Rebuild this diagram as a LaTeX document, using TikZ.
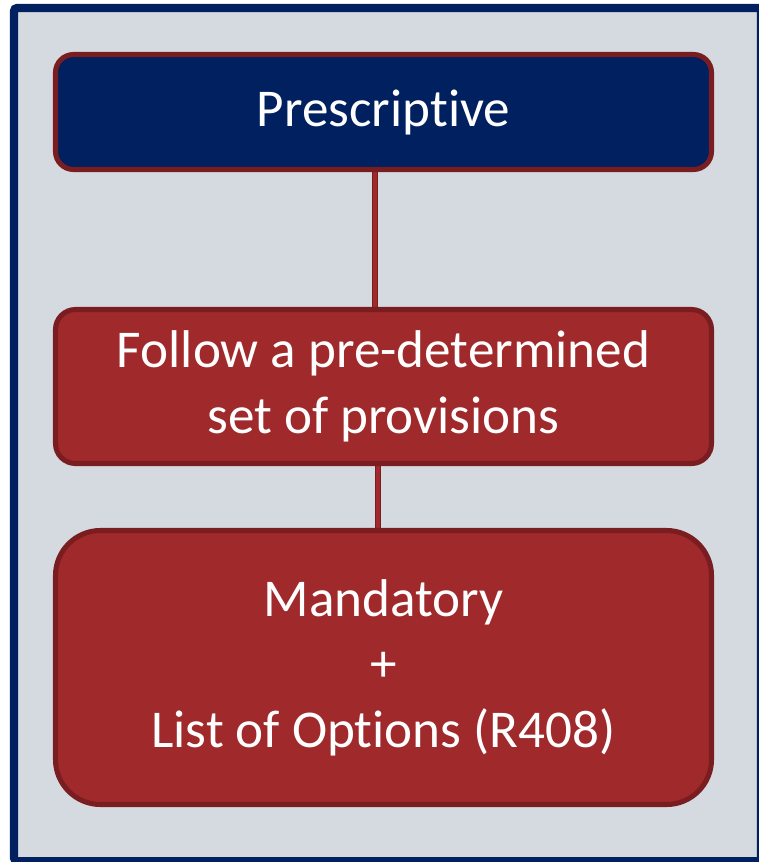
\documentclass[tikz,border=0pt]{standalone}
\usepackage{fontspec}
\setmainfont[Ligatures=NoCommon]{Carlito}
\usetikzlibrary{backgrounds}
\definecolor{navy}{HTML}{002060}
\definecolor{brick}{HTML}{A0292B}
\definecolor{darkbrick}{HTML}{7A1D20}
\definecolor{panel}{HTML}{D5DAE1}
\begin{document}
\begin{tikzpicture}[box/.style={draw = darkbrick, line width = 3.6pt, text = white, minimum width = 16.4cm, align = center, font = \fontsize{37.8}{46.5}\selectfont}]
\tikzstyle{link}=[draw=darkbrick, line width=0.7pt, double=brick, double distance=3.2pt]
\useasboundingbox (0,0) rectangle (18.975,-21.55);
\node[box, fill = navy, minimum height = 2.875cm, rounded corners = 0.45cm] (P) at (9.5875,-2.8){Prescriptive};
\node[box, fill = brick, minimum height = 3.85cm, rounded corners = 0.5cm] (F) at (9.5875,-9.6625){Follow a pre-determined\\set of provisions};
\node[box, fill = brick, minimum height = 6.85cm, rounded corners = 1.125cm] (M) at (9.5875,-16.6875){Mandatory\\+\\List of Options (R408)};
\begin{scope}[on background layer]
\draw[draw = navy, fill = panel, line width = 5.7pt, rounded corners = 2pt] (0.35,-0.2) rectangle (19.025,-21.525);
\foreach \i/\j/\k in {P/F/-0.21,F/M/-0.14}{\path[link] ([xshift=\k cm]\i.south) -- ([xshift=\k cm]\j.north);}
\end{scope}
\end{tikzpicture}
\end{document}
